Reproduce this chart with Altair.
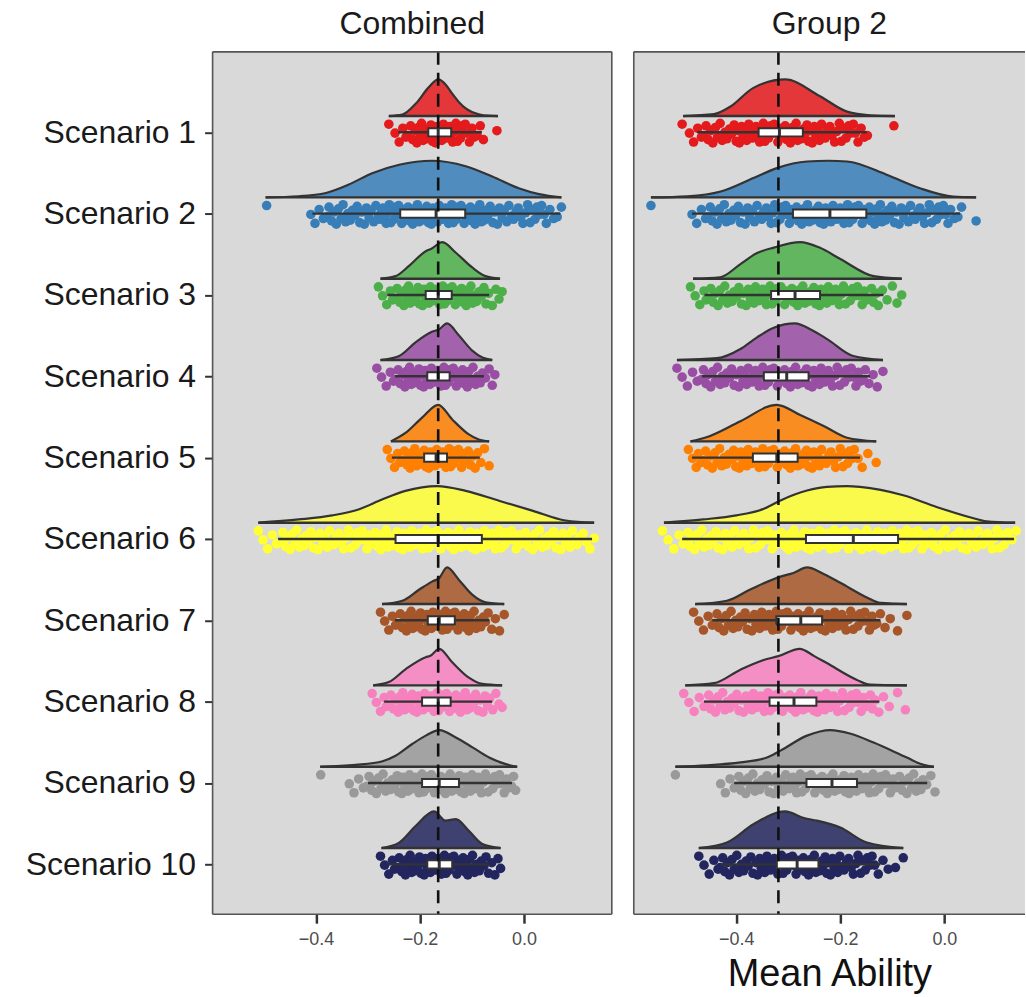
import altair as alt
import pandas as pd

# ---------------- data ----------------
SCENARIOS = [f"Scenario {i}" for i in range(1, 11)]
COLORS = ["#E41A1C", "#377EB8", "#4DAF4A", "#984EA3", "#FF7F00",
          "#FFFF33", "#A65628", "#F781BF", "#999999", "#23265E"]
PANEL_TITLES = ["Combined", "Group 2"]
REF_LINE = [-0.165, -0.319]
X_TICKS = [-0.4, -0.2, 0.0]
X_DOMAINS = [[-0.599, 0.169], [-0.597, 0.155]]

# density curves (x in thousandths, relative height)
DENS_COMB_X = [
    [-260, -234, -208, -183, -165, -150, -138, -125, -112, -100, -87, -70, -50],
    [-497, -433, -381, -337, -292, -240, -177, -112, -61, -10, 29, 72],
    [-276, -247, -221, -189, -178, -157, -131, -99, -74, -46],
    [-276, -240, -208, -177, -163, -148, -125, -99, -80, -61],
    [-256, -228, -196, -165, -138, -106, -87, -67],
    [-511, -433, -369, -317, -272, -228, -167, -112, -48, 16, 80, 135],
    [-273, -234, -202, -176, -163, -148, -125, -99, -74, -38],
    [-290, -260, -228, -189, -180, -163, -138, -106, -80, -42],
    [-392, -324, -272, -247, -215, -189, -163, -131, -99, -67, -35, -13],
    [-274, -240, -208, -173, -151, -131, -106, -80, -45],
]
DENS_COMB_H = [
    [0, 0.04, 0.34, 0.79, 1.0, 0.85, 0.61, 0.38, 0.21, 0.11, 0.05, 0.01, 0],
    [0, 0.03, 0.12, 0.35, 0.66, 0.89, 1.0, 0.85, 0.57, 0.25, 0.09, 0],
    [0, 0.07, 0.35, 0.75, 0.82, 1.0, 0.71, 0.30, 0.07, 0],
    [0, 0.11, 0.49, 0.77, 0.84, 1.0, 0.67, 0.25, 0.07, 0],
    [0, 0.23, 0.65, 1.0, 0.60, 0.19, 0.05, 0],
    [0, 0.09, 0.20, 0.37, 0.64, 0.87, 1.0, 0.87, 0.60, 0.33, 0.06, 0],
    [0, 0.09, 0.39, 0.62, 0.71, 1.0, 0.66, 0.25, 0.05, 0],
    [0, 0.09, 0.44, 0.77, 0.81, 1.0, 0.63, 0.21, 0.04, 0],
    [0, 0.05, 0.15, 0.30, 0.62, 0.85, 1.0, 0.80, 0.53, 0.25, 0.07, 0],
    [0, 0.15, 0.61, 1.0, 0.75, 0.79, 0.47, 0.11, 0],
]
DENS_G2_X = [
    [-502, -443, -411, -367, -306, -239, -187, -143, -95],
    [-564, -494, -430, -367, -322, -264, -223, -187, -111, -47, 17, 61],
    [-483, -431, -392, -360, -328, -277, -240, -200, -136, -82],
    [-514, -437, -392, -360, -328, -287, -255, -226, -175, -118],
    [-488, -456, -392, -322, -277, -232, -187, -131],
    [-539, -463, -400, -347, -315, -264, -226, -187, -162, -79, -15, 49, 81, 136],
    [-479, -418, -373, -315, -290, -264, -232, -200, -149, -123, -72],
    [-498, -443, -392, -350, -319, -278, -250, -226, -168, -143, -72],
    [-517, -456, -392, -341, -315, -264, -219, -180, -136, -72, -40, -20],
    [-472, -418, -367, -306, -270, -245, -200, -149, -79],
]
DENS_G2_H = [
    [0, 0.05, 0.26, 0.77, 1.0, 0.54, 0.12, 0.02, 0],
    [0, 0.03, 0.16, 0.53, 0.80, 0.98, 1.0, 0.98, 0.62, 0.25, 0.02, 0],
    [0, 0.04, 0.40, 0.70, 0.85, 1.0, 0.85, 0.54, 0.07, 0],
    [0, 0.05, 0.30, 0.62, 0.88, 1.0, 0.82, 0.58, 0.11, 0],
    [0, 0.12, 0.55, 1.0, 0.72, 0.42, 0.10, 0],
    [0, 0.09, 0.20, 0.38, 0.61, 0.88, 0.98, 1.0, 0.98, 0.75, 0.43, 0.15, 0.04, 0],
    [0, 0.09, 0.40, 0.75, 0.85, 1.0, 0.82, 0.58, 0.18, 0.03, 0],
    [0, 0.06, 0.43, 0.68, 0.80, 1.0, 0.80, 0.61, 0.15, 0.02, 0],
    [0, 0.04, 0.12, 0.25, 0.44, 0.85, 1.0, 0.90, 0.66, 0.25, 0.05, 0],
    [0, 0.15, 0.65, 1.0, 0.82, 0.75, 0.56, 0.15, 0],
]

# rain-cloud point values (thousandths), estimated from the point clouds
PTS_COMB = [
    [-260, -248, -240, -233, -227, -223, -218, -214, -209, -206, -203, -200, -197, -194, -191, -188, -185, -182, -179, -176, -173, -170, -167, -164,
     -161, -158, -155, -152, -149, -146, -143, -140, -137, -134, -131, -128, -125, -122, -119, -116, -113, -109, -105, -100, -96, -90, -84, -78, -52],
    [-495, -410, -402, -394, -386, -379, -375, -370, -366, -361, -357, -352, -348, -343, -339, -334, -330, -325, -321, -316, -312, -307, -303, -298, -294,
     -289, -285, -280, -277, -274, -271, -268, -265, -262, -259, -256, -253, -250, -247, -244, -241, -238, -235, -232, -229, -226, -223, -220, -217, -214,
     -211, -208, -205, -202, -199, -196, -193, -190, -187, -184, -181, -178, -175, -172, -169, -166, -163, -160, -157, -154, -151, -148, -145, -142, -139,
     -136, -133, -130, -127, -124, -121, -118, -115, -112, -109, -106, -103, -100, -97, -94, -91, -88, -85, -82, -79, -76, -73, -69, -65, -60, -56, -51,
     -47, -42, -38, -33, -29, -24, -20, -15, -11, -6, -2, 3, 7, 12, 16, 21, 25, 30, 34, 39, 43, 50, 57, 64, 72],
    [-280, -272, -264, -257, -253, -248, -244, -239, -235, -231, -228, -225, -222, -219, -216, -213, -210, -207, -204, -201, -198, -195, -192, -189, -186,
     -183, -180, -177, -174, -171, -168, -165, -162, -159, -156, -153, -150, -147, -144, -141, -138, -135, -132, -129, -126, -123, -120, -117, -114, -111,
     -108, -105, -102, -99, -95, -91, -86, -82, -77, -73, -68, -61, -54, -48, -42],
    [-283, -274, -265, -257, -251, -247, -242, -238, -233, -229, -226, -223, -220, -217, -214, -211, -208, -205, -202, -199, -196, -193, -190, -187, -184,
     -181, -178, -175, -172, -169, -166, -163, -160, -157, -154, -151, -148, -145, -142, -139, -136, -133, -130, -127, -124, -121, -118, -115, -112, -109,
     -106, -102, -98, -93, -89, -84, -80, -74, -67, -61, -56],
    [-263, -256, -249, -243, -239, -234, -230, -225, -222, -219, -216, -213, -210, -207, -204, -201, -198, -195, -192, -189, -186, -183, -180, -177, -174,
     -171, -168, -165, -162, -159, -156, -153, -150, -147, -144, -141, -138, -135, -132, -129, -126, -123, -120, -117, -114, -111, -107, -103, -98, -94,
     -89, -83, -76, -67],
    [-511, -502, -493, -484, -476, -468, -464, -459, -455, -450, -446, -441, -437, -432, -428, -423, -419, -414, -410, -405, -401, -396, -392, -387, -383,
     -378, -374, -369, -365, -360, -356, -351, -347, -342, -338, -333, -329, -324, -320, -315, -311, -306, -302, -297, -293, -289, -286, -282, -279, -275,
     -272, -268, -265, -261, -258, -254, -251, -247, -244, -240, -237, -233, -230, -226, -223, -219, -216, -212, -209, -205, -202, -198, -195, -191, -188,
     -184, -181, -177, -174, -170, -167, -163, -160, -156, -153, -149, -146, -142, -139, -135, -132, -128, -125, -121, -118, -114, -111, -107, -104, -100,
     -97, -93, -90, -86, -83, -79, -76, -72, -69, -65, -62, -58, -55, -51, -48, -44, -41, -37, -33, -28, -24, -19, -15, -10, -6, -1, 3, 8, 12, 17, 21, 26,
     30, 35, 39, 44, 48, 53, 57, 62, 66, 71, 75, 80, 84, 89, 93, 98, 102, 107, 114, 120, 127, 135],
    [-276, -268, -260, -253, -247, -243, -238, -234, -229, -226, -223, -220, -217, -214, -211, -208, -205, -202, -199, -196, -193, -190, -187, -184, -181,
     -178, -175, -172, -169, -166, -163, -160, -157, -154, -151, -148, -145, -142, -139, -136, -133, -130, -127, -124, -121, -118, -115, -112, -109, -106,
     -103, -100, -96, -92, -87, -83, -78, -74, -69, -62, -55, -47, -38],
    [-292, -284, -276, -269, -265, -260, -256, -251, -247, -242, -239, -236, -233, -230, -227, -224, -221, -218, -215, -212, -209, -206, -203, -200, -197,
     -194, -191, -188, -185, -182, -179, -176, -173, -170, -167, -164, -161, -158, -155, -152, -149, -146, -143, -140, -137, -134, -131, -128, -125, -122,
     -119, -116, -113, -110, -107, -104, -101, -97, -93, -88, -84, -79, -75, -70, -66, -60, -54, -48, -42],
    [-391, -336, -327, -318, -309, -302, -298, -293, -289, -284, -280, -275, -271, -266, -262, -257, -253, -248, -244, -241, -238, -235, -232, -229, -226,
     -223, -220, -217, -214, -211, -208, -205, -202, -199, -196, -193, -190, -187, -184, -181, -178, -175, -172, -169, -166, -163, -160, -157, -154, -151,
     -148, -145, -142, -139, -136, -133, -130, -127, -124, -121, -118, -115, -112, -109, -106, -103, -100, -97, -94, -91, -88, -85, -82, -78, -74, -69,
     -65, -60, -56, -51, -47, -42, -38, -33, -29, -24, -20, -16],
    [-276, -268, -260, -253, -249, -244, -240, -235, -231, -228, -225, -222, -219, -216, -213, -210, -207, -204, -201, -198, -195, -192, -189, -186, -183,
     -180, -177, -174, -171, -168, -165, -162, -159, -156, -153, -150, -147, -144, -141, -138, -135, -132, -129, -126, -123, -120, -117, -114, -111, -108,
     -105, -102, -99, -95, -91, -86, -82, -77, -73, -68, -62, -56, -50, -45],
]
PTS_G2 = [
    [-504, -490, -482, -474, -467, -463, -458, -454, -449, -445, -440, -436, -431, -427, -422, -418, -413, -409, -404, -400, -397, -394, -390, -387, -383,
     -380, -376, -373, -369, -366, -362, -359, -355, -352, -348, -345, -341, -338, -334, -331, -327, -324, -320, -317, -313, -310, -306, -303, -299, -296,
     -292, -289, -285, -282, -278, -275, -271, -268, -264, -261, -257, -254, -250, -247, -243, -240, -236, -233, -229, -225, -220, -216, -211, -207, -202,
     -198, -193, -189, -184, -180, -175, -171, -166, -160, -154, -148, -97],
    [-564, -485, -476, -467, -459, -455, -450, -446, -441, -437, -432, -428, -423, -419, -414, -410, -405, -401, -396, -392, -387, -383, -378, -374, -369,
     -365, -360, -356, -351, -347, -342, -338, -333, -330, -326, -323, -319, -316, -312, -309, -305, -302, -298, -295, -291, -288, -284, -281, -277, -274,
     -270, -267, -263, -260, -256, -253, -249, -246, -242, -239, -235, -232, -228, -225, -221, -218, -214, -211, -207, -204, -200, -197, -193, -190, -186,
     -183, -179, -176, -172, -169, -165, -162, -158, -155, -151, -148, -144, -141, -137, -134, -130, -127, -123, -120, -116, -113, -109, -105, -101, -96,
     -92, -87, -83, -78, -74, -69, -65, -60, -56, -51, -47, -42, -38, -33, -29, -24, -20, -15, -11, -6, -2, 3, 7, 12, 19, 26, 33, 61],
    [-488, -479, -470, -462, -458, -453, -449, -444, -440, -435, -431, -426, -422, -417, -413, -408, -404, -399, -395, -390, -386, -381, -377, -373, -370,
     -366, -363, -359, -356, -352, -349, -345, -342, -338, -335, -331, -328, -324, -321, -317, -314, -310, -307, -303, -300, -296, -293, -289, -286, -282,
     -279, -275, -272, -268, -265, -261, -258, -254, -251, -247, -244, -240, -237, -233, -230, -226, -223, -219, -216, -212, -209, -205, -202, -198, -194,
     -190, -185, -181, -176, -172, -167, -163, -158, -154, -149, -145, -140, -136, -131, -127, -119, -110, -100, -91, -82],
    [-514, -504, -494, -484, -475, -467, -463, -458, -454, -449, -445, -440, -436, -431, -427, -422, -418, -413, -409, -404, -400, -395, -391, -387, -384,
     -380, -377, -373, -370, -366, -363, -359, -356, -352, -349, -345, -342, -338, -335, -331, -328, -324, -321, -317, -314, -310, -307, -303, -300, -296,
     -293, -289, -286, -282, -279, -275, -272, -268, -265, -261, -258, -254, -251, -247, -244, -240, -237, -233, -230, -226, -223, -219, -215, -210, -206,
     -201, -197, -192, -188, -183, -179, -174, -170, -165, -161, -156, -152, -145, -137, -129, -118],
    [-492, -484, -477, -473, -468, -464, -459, -455, -450, -446, -441, -437, -432, -428, -423, -419, -414, -408, -405, -401, -398, -394, -391, -387, -384,
     -380, -377, -373, -370, -366, -363, -359, -356, -352, -349, -345, -342, -338, -335, -331, -328, -324, -321, -317, -314, -310, -307, -303, -300, -296,
     -293, -289, -286, -282, -279, -275, -272, -268, -265, -261, -258, -254, -251, -247, -244, -240, -236, -231, -227, -222, -218, -213, -209, -204, -200,
     -195, -191, -186, -182, -177, -173, -166, -158, -147, -131],
    [-542, -531, -520, -510, -502, -498, -493, -489, -484, -480, -475, -471, -466, -462, -457, -453, -448, -444, -439, -435, -430, -426, -421, -417, -412,
     -408, -403, -399, -394, -390, -385, -381, -376, -372, -367, -363, -358, -354, -349, -345, -340, -336, -331, -327, -322, -318, -313, -306, -303, -299,
     -296, -292, -289, -285, -282, -278, -275, -271, -268, -264, -261, -257, -254, -250, -247, -243, -240, -236, -233, -229, -226, -222, -219, -215, -212,
     -208, -205, -201, -198, -194, -191, -187, -184, -180, -177, -173, -170, -166, -163, -159, -156, -152, -149, -145, -142, -138, -135, -131, -128, -124,
     -121, -117, -114, -110, -107, -103, -100, -96, -93, -89, -86, -82, -79, -75, -72, -68, -65, -61, -58, -54, -51, -47, -43, -38, -34, -29, -25, -20,
     -16, -11, -7, -2, 2, 7, 11, 16, 20, 25, 29, 34, 38, 43, 47, 52, 56, 61, 65, 70, 74, 79, 83, 88, 92, 97, 101, 106, 110, 115, 122, 130, 138],
    [-482, -472, -463, -454, -446, -442, -437, -433, -428, -424, -419, -415, -410, -406, -401, -397, -392, -388, -383, -379, -374, -370, -365, -362, -358,
     -355, -351, -348, -344, -341, -337, -334, -330, -327, -323, -320, -316, -313, -309, -306, -302, -299, -295, -292, -288, -285, -281, -278, -274, -271,
     -267, -264, -260, -257, -253, -250, -246, -243, -239, -236, -232, -229, -225, -222, -218, -215, -211, -208, -204, -201, -197, -193, -189, -184, -180,
     -175, -171, -166, -162, -157, -153, -148, -144, -139, -135, -130, -123, -114, -104, -90, -72],
    [-501, -491, -481, -471, -462, -458, -453, -449, -444, -440, -435, -431, -426, -422, -417, -413, -408, -404, -399, -395, -390, -386, -381, -377, -374,
     -370, -367, -363, -360, -356, -353, -349, -346, -342, -339, -335, -332, -328, -325, -321, -318, -314, -311, -307, -304, -300, -297, -293, -290, -286,
     -283, -279, -276, -272, -269, -265, -262, -258, -255, -251, -248, -244, -241, -237, -234, -230, -227, -223, -220, -216, -213, -209, -205, -201, -196,
     -192, -187, -183, -178, -174, -169, -165, -160, -156, -151, -147, -142, -138, -133, -126, -117, -106, -90, -75],
    [-517, -430, -421, -412, -404, -400, -395, -391, -386, -382, -377, -373, -368, -364, -359, -355, -350, -346, -341, -337, -332, -328, -323, -319, -314,
     -310, -305, -302, -298, -295, -291, -288, -284, -281, -277, -274, -270, -267, -263, -260, -256, -253, -249, -246, -242, -239, -235, -232, -228, -225,
     -221, -218, -214, -211, -207, -204, -200, -197, -193, -190, -186, -183, -179, -176, -172, -169, -165, -162, -158, -155, -151, -148, -144, -141, -137,
     -134, -130, -126, -122, -117, -113, -108, -104, -99, -95, -90, -86, -81, -77, -72, -68, -63, -59, -54, -50, -45, -41, -34, -26, -18],
    [-472, -462, -452, -443, -435, -431, -426, -422, -417, -413, -408, -404, -399, -395, -390, -386, -381, -377, -372, -368, -362, -359, -355, -352, -348,
     -345, -341, -338, -334, -331, -327, -324, -320, -317, -313, -310, -306, -303, -299, -296, -292, -289, -285, -282, -278, -275, -271, -268, -264, -261,
     -257, -254, -250, -247, -243, -240, -236, -233, -229, -226, -222, -219, -215, -212, -208, -205, -201, -197, -193, -188, -184, -179, -175, -170, -166,
     -161, -157, -152, -148, -143, -139, -134, -127, -118, -108, -94, -79],
]
# vertical jitter of the rain points (row units), stratified across the band
JITTER = [-0.11, 0.00, 0.11, -0.06, 0.05,
          0.03, -0.09, 0.08, -0.03, 0.12,
          -0.07, 0.05, -0.12, 0.09, -0.01,
          0.07, -0.05, 0.01, -0.10, 0.10,
          -0.03, 0.12, -0.08, 0.04, -0.05,
          0.09, -0.11, 0.02, 0.06, -0.04,
          -0.08, 0.03, 0.11, -0.02, -0.12,
          0.10, -0.06, 0.06, -0.09, 0.00]

# notched box plots (thousandths)
BOX_COMB = {
    "q1":  [-184, -238, -189, -186, -192, -247, -185, -196, -196, -186],
    "med": [-165, -169, -165, -165, -169, -165, -163, -165, -163, -163],
    "q3":  [-140, -113, -139, -143, -148, -81, -133, -141, -125, -138],
    "lo":  [-242, -407, -263, -248, -254, -473, -248, -269, -300, -260],
    "hi":  [-81, 70, -67, -77, -85, 131, -67, -61, -23, -67],
}
BOX_G2 = {
    "q1":  [-357, -291, -333, -347, -368, -266, -323, -336, -265, -322],
    "med": [-317, -220, -287, -303, -322, -175, -276, -289, -216, -283],
    "q3":  [-272, -150, -239, -261, -282, -89, -235, -246, -168, -242],
    "lo":  [-475, -485, -461, -466, -485, -504, -446, -462, -404, -430],
    "hi":  [-149, 30, -117, -143, -162, 134, -123, -125, -33, -123],
}

DENS_X = [DENS_COMB_X, DENS_G2_X]
DENS_H = [DENS_COMB_H, DENS_G2_H]
PTS = [PTS_COMB, PTS_G2]
BOXES = [BOX_COMB, BOX_G2]

# ---------------- styling ----------------
FONT = "Liberation Sans"
DARK = "#333333"
BASE_OFF = 0.2      # density baseline sits this far above the row
DENS_TALL = 0.45    # peak height of each half violin (row units)
BOX_HALF = 0.05
PANEL_H = 864
Y_DOMAIN = [0.011, 10.613]


def build_panel(pi, width, show_y, x_title):
    dens_rows, pt_rows, box_rows = [], [], []
    for si, name in enumerate(SCENARIOS):
        k = si + 1
        xs, hs = DENS_X[pi][si], DENS_H[pi][si]
        for xv, hv in zip(xs, hs):
            dens_rows.append({"scenario": name, "x": xv / 1000,
                              "top": k - BASE_OFF - DENS_TALL * hv,
                              "base": k - BASE_OFF})
        for j, xv in enumerate(PTS[pi][si]):
            pt_rows.append({"scenario": name, "x": xv / 1000,
                            "y": k + 0.01 + JITTER[j % len(JITTER)]})
        b = BOXES[pi]
        box_rows.append({"scenario": name, "k": k,
                         "q1": b["q1"][si] / 1000, "med": b["med"][si] / 1000,
                         "q3": b["q3"][si] / 1000, "lo": b["lo"][si] / 1000,
                         "hi": b["hi"][si] / 1000,
                         "bt": k - BOX_HALF, "bb": k + BOX_HALF,
                         "dmin": xs[0] / 1000, "dmax": xs[-1] / 1000,
                         "base": k - BASE_OFF})
    dens = pd.DataFrame(dens_rows)
    pts = pd.DataFrame(pt_rows)
    box = pd.DataFrame(box_rows)
    ref = pd.DataFrame({"x": [REF_LINE[pi]]})

    xs_ = alt.Scale(domain=X_DOMAINS[pi], nice=False, zero=False)
    ys_ = alt.Scale(domain=Y_DOMAIN, reverse=True, nice=False, zero=False)
    color = alt.Color("scenario:N", scale=alt.Scale(domain=SCENARIOS, range=COLORS),
                      legend=None)

    axis_kw = dict(values=X_TICKS, format=".1f", labelFontSize=18,
                   labelColor="#4D4D4D", tickSize=9, tickWidth=2.5,
                   tickColor=DARK, domain=False, grid=False, labelPadding=7)
    if x_title:
        axis_kw.update(titleFontSize=38, titleFontWeight="normal",
                       titleColor="#111111", titlePadding=7)
    xaxis = alt.Axis(**axis_kw)

    def X(field):
        if x_title:
            return alt.X(field, scale=xs_, axis=xaxis, title=x_title)
        return alt.X(field, scale=xs_, axis=xaxis, title=None)

    if show_y:
        yaxis = alt.Axis(values=list(range(1, 11)),
                         labelExpr="'Scenario ' + datum.value",
                         labelFontSize=32, labelColor="#1A1A1A", tickSize=8,
                         tickWidth=2, tickColor=DARK, domain=False, grid=False,
                         labelPadding=9)

        def Y(field):
            return alt.Y(field, scale=ys_, axis=yaxis, title=None, stack=None)
    else:
        def Y(field):
            return alt.Y(field, scale=ys_, axis=None, stack=None)

    area = alt.Chart(dens).mark_area(interpolate="monotone", opacity=0.85).encode(
        x=X("x:Q"), y=Y("top:Q"), y2="base:Q", color=color)
    outline = alt.Chart(dens).mark_line(interpolate="monotone", color=DARK,
                                        strokeWidth=2.2).encode(
        x=X("x:Q"), y=Y("top:Q"), detail="scenario:N")
    baseline = alt.Chart(box).mark_rule(color=DARK, strokeWidth=2.4).encode(
        x=X("dmin:Q"), x2="dmax:Q", y=Y("base:Q"))
    points = alt.Chart(pts).mark_circle(size=92, opacity=1).encode(
        x=X("x:Q"), y=Y("y:Q"), color=color)
    whisk = alt.Chart(box).mark_rule(color=DARK, strokeWidth=2.4).encode(
        x=X("lo:Q"), x2="hi:Q", y=Y("k:Q"))
    boxes = alt.Chart(box).mark_rect(fill="white", stroke=DARK, strokeWidth=2).encode(
        x=X("q1:Q"), x2="q3:Q", y=Y("bt:Q"), y2="bb:Q")
    med = alt.Chart(box).mark_rule(color=DARK, strokeWidth=3).encode(
        x=X("med:Q"), y=Y("bt:Q"), y2="bb:Q")
    dash = alt.Chart(ref).mark_rule(color="#111111", strokeWidth=2.6,
                                    strokeDash=[13, 8]).encode(x=X("x:Q"))

    frame_df = pd.DataFrame({"f": [0]})
    fr = alt.Chart(frame_df).mark_rule(color="#555555", strokeWidth=1.6)
    frames = [
        fr.encode(x=alt.value(0), y=alt.value(0), y2=alt.value(PANEL_H)),
        fr.encode(x=alt.value(0), x2=alt.value(width), y=alt.value(0)),
        fr.encode(x=alt.value(0), x2=alt.value(width), y=alt.value(PANEL_H)),
    ]
    if pi == 0:
        frames.append(fr.encode(x=alt.value(width), y=alt.value(0),
                                y2=alt.value(PANEL_H)))

    return alt.layer(area, outline, baseline, points, whisk, boxes, med, dash,
                     *frames).properties(
        width=width, height=PANEL_H,
        title=alt.TitleParams(text=PANEL_TITLES[pi], fontSize=32,
                              fontWeight="normal", color="#1A1A1A",
                              anchor="middle", offset=10))


left = build_panel(0, 400, True, None)
right = build_panel(1, 392, False, "Mean Ability")

chart = alt.hconcat(left, right, spacing=20).properties(
    padding={"left": 25, "top": 6, "right": 0, "bottom": 0}
).configure(font=FONT).configure_view(fill="#D9D9D9", stroke=None)

chart.save("out.html", embed_options={"renderer": "svg", "actions": False})
